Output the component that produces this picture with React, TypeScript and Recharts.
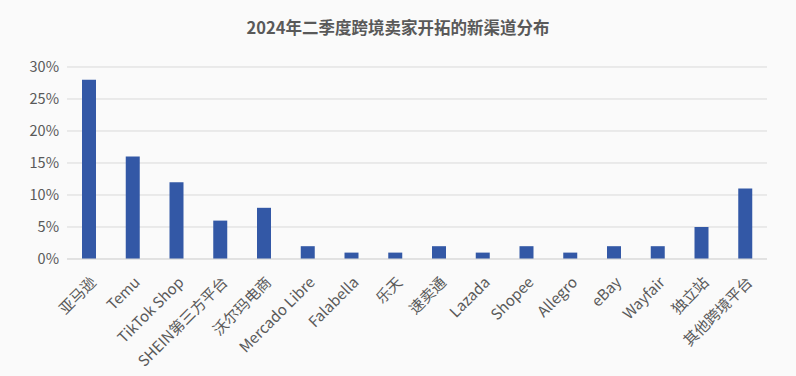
import { BarChart, Bar, XAxis, YAxis, CartesianGrid } from 'recharts';

const channels = [
  '亚马逊', 'Temu', 'TikTok Shop', 'SHEIN第三方平台', '沃尔玛电商', 'Mercado Libre',
  'Falabella', '乐天', '速卖通', 'Lazada', 'Shopee', 'Allegro', 'eBay', 'Wayfair',
  '独立站', '其他跨境平台',
];
const shares = [28, 16, 12, 6, 8, 2, 1, 1, 2, 1, 2, 1, 2, 2, 5, 11];
const yTicks = [0, 5, 10, 15, 20, 25, 30];

const data = channels.map((name, i) => ({ name, share: shares[i] }));

const FONT = '"Noto Sans CJK SC", "Noto Sans", sans-serif';

function AngledTick({ x, y, payload }: any) {
  return (
    <g transform={`translate(${x + 2},${y + 10})`}>
      <text
        textAnchor="end"
        transform="rotate(-45)"
        fontSize={15}
        fill="#595959"
        fontFamily={FONT}
        dy={9}
      >
        {payload.value}
      </text>
    </g>
  );
}

export default function App() {
  return (
    <div
      style={{
        position: 'absolute',
        left: 0,
        top: 0,
        width: 796,
        height: 376,
        background: '#fafafa',
        fontFamily: FONT,
      }}
    >
      <div
        style={{
          position: 'absolute',
          top: 15,
          width: 796,
          textAlign: 'center',
          fontSize: 16.5,
          fontWeight: 'bold',
          color: '#595959',
        }}
      >
        2024年二季度跨境卖家开拓的新渠道分布
      </div>
      <BarChart
        width={796}
        height={376}
        data={data}
        margin={{ top: 67, right: 29, bottom: 7, left: 7 }}
      >
        <CartesianGrid vertical={false} stroke="#d9d9d9" />
        <XAxis
          dataKey="name"
          interval={0}
          height={110}
          tick={<AngledTick />}
          tickLine={false}
          axisLine={{ stroke: '#d9d9d9' }}
        />
        <YAxis
          width={60}
          domain={[0, 30]}
          ticks={yTicks}
          tickFormatter={(v: number) => `${v}%`}
          tick={{ fontSize: 14.5, fill: '#595959', fontFamily: FONT }}
          tickLine={false}
          axisLine={false}
        />
        <Bar dataKey="share" fill="#3358a6" barSize={14} isAnimationActive={false} />
      </BarChart>
    </div>
  );
}
